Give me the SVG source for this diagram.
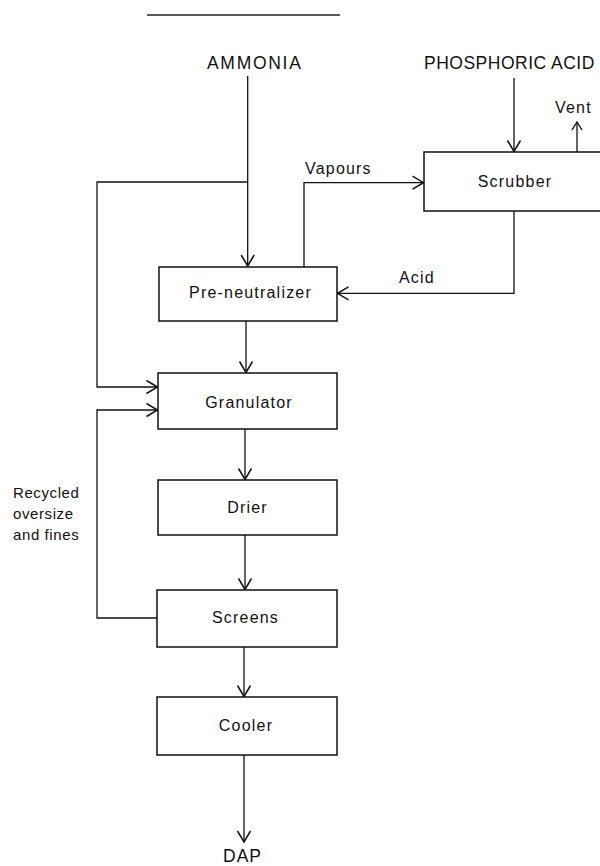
<svg xmlns="http://www.w3.org/2000/svg" width="600" height="866" viewBox="0 0 600 866">
  <style>
    .box { fill: #ffffff; stroke: #111111; stroke-width: 1.5; }
    .flow { fill: none; stroke: #111111; stroke-width: 1.3; }
    .lbl { font-family: "Liberation Sans", Arial, sans-serif; font-size: 16px; letter-spacing: 1.2px; fill: #111111; }
    .note { font-family: "Liberation Sans", Arial, sans-serif; font-size: 15px; letter-spacing: 0.6px; fill: #111111; }
    .caps { font-family: "Liberation Sans", Arial, sans-serif; font-size: 17.5px; fill: #111111; }
    .mid { text-anchor: middle; }
  </style>
  <defs>
    <marker id="arrow" viewBox="-13 -8 15 16" refX="0" refY="0" markerWidth="15" markerHeight="16" markerUnits="userSpaceOnUse" orient="auto">
      <path d="M -11,-6.5 L 0,0 L -11,6.5" fill="none" stroke="#111111" stroke-width="1.5"/>
    </marker>
    <marker id="arrowSmall" viewBox="-10 -6 12 12" refX="0" refY="0" markerWidth="12" markerHeight="12" markerUnits="userSpaceOnUse" orient="auto">
      <path d="M -8,-5 L 0,0 L -8,5" fill="none" stroke="#111111" stroke-width="1.4"/>
    </marker>
  </defs>

  <rect width="600" height="866" fill="#ffffff"/>

  <!-- rule above the figure -->
  <line x1="147" y1="15" x2="340" y2="15" stroke="#222222" stroke-width="1.6"/>

  <!-- feed labels -->
  <text class="caps" x="207" y="69" letter-spacing="1.7">AMMONIA</text>
  <text class="caps" x="424" y="69" letter-spacing="0.5">PHOSPHORIC ACID</text>

  <g id="connectors">
    <!-- ammonia feed to pre-neutralizer -->
    <line class="flow" x1="247.7" y1="76" x2="247.7" y2="266" marker-end="url(#arrow)"/>
    <!-- ammonia branch to granulator -->
    <polyline class="flow" points="247.7,182 97,182 97,387 157.5,387" marker-end="url(#arrow)"/>
    <!-- vapours to scrubber -->
    <polyline class="flow" points="304,267 304,182.7 423.5,182.7" marker-end="url(#arrow)"/>
    <!-- phosphoric acid feed -->
    <line class="flow" x1="514" y1="78" x2="514" y2="151.5" marker-end="url(#arrow)"/>
    <!-- vent -->
    <line class="flow" x1="577" y1="152" x2="577" y2="122" marker-end="url(#arrowSmall)"/>
    <!-- acid return -->
    <polyline class="flow" points="514,211 514,293.3 337.5,293.3" marker-end="url(#arrow)"/>
    <!-- main product line -->
    <line class="flow" x1="246" y1="321" x2="246" y2="372.5" marker-end="url(#arrow)"/>
    <line class="flow" x1="245" y1="429" x2="245" y2="479.5" marker-end="url(#arrow)"/>
    <line class="flow" x1="245" y1="535" x2="245" y2="589.5" marker-end="url(#arrow)"/>
    <line class="flow" x1="244" y1="647" x2="244" y2="696.5" marker-end="url(#arrow)"/>
    <line class="flow" x1="244" y1="755" x2="244" y2="842" marker-end="url(#arrow)"/>
    <!-- recycle loop -->
    <polyline class="flow" points="157,618 97,618 97,410 157.5,410" marker-end="url(#arrow)"/>
  </g>

  <!-- stream labels -->
  <text class="lbl" x="305" y="174">Vapours</text>
  <text class="lbl" x="399" y="283">Acid</text>
  <text class="lbl" x="555" y="113">Vent</text>
  <text class="note" x="13" y="498">Recycled</text>
  <text class="note" x="13" y="518.5">oversize</text>
  <text class="note" x="13" y="540">and fines</text>
  <text class="caps" x="223" y="862" letter-spacing="1">DAP</text>

  <g id="scrubber">
    <rect class="box" x="424" y="152" width="190" height="59"/>
    <text class="lbl mid" x="515" y="187">Scrubber</text>
  </g>
  <g id="pre-neutralizer">
    <rect class="box" x="159" y="267" width="178" height="54"/>
    <text class="lbl mid" x="250.5" y="298">Pre-neutralizer</text>
  </g>
  <g id="granulator">
    <rect class="box" x="158" y="373" width="179" height="56"/>
    <text class="lbl mid" x="249" y="408">Granulator</text>
  </g>
  <g id="drier">
    <rect class="box" x="158" y="480" width="179" height="55"/>
    <text class="lbl mid" x="247.5" y="513">Drier</text>
  </g>
  <g id="screens">
    <rect class="box" x="157" y="590" width="180" height="57"/>
    <text class="lbl mid" x="245.5" y="623">Screens</text>
  </g>
  <g id="cooler">
    <rect class="box" x="157" y="697" width="180" height="58"/>
    <text class="lbl mid" x="246" y="731">Cooler</text>
  </g>
</svg>
